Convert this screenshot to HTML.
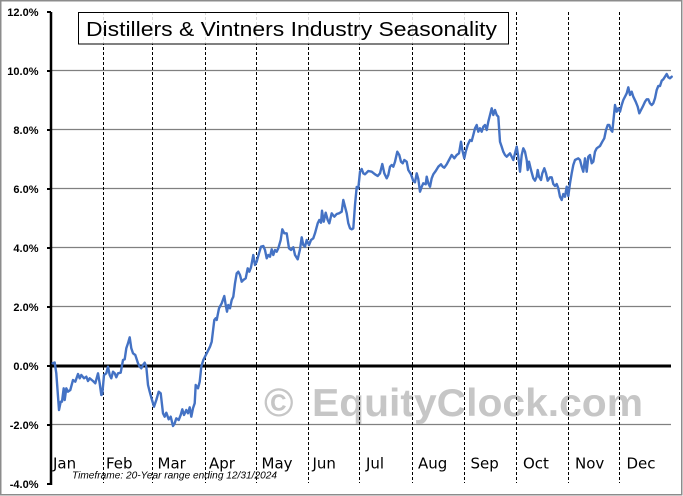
<!DOCTYPE html>
<html>
<head>
<meta charset="utf-8">
<style>
  html, body { margin:0; padding:0; background:#ffffff; }
  svg { display:block; }
</style>
</head>
<body>
<svg width="683" height="496" viewBox="0 0 683 496" xmlns="http://www.w3.org/2000/svg">
  <rect x="0" y="0" width="683" height="496" fill="#ffffff"/>
  <!-- outer border -->
  <rect x="0.75" y="0.75" width="681" height="494" fill="none" stroke="#8c8c8c" stroke-width="1.5"/>

  <!-- horizontal gridlines -->
  <g stroke="#808080" stroke-width="1.2">
    <line x1="51" y1="70.5" x2="671" y2="70.5"/>
    <line x1="51" y1="129.5" x2="671" y2="129.5"/>
    <line x1="51" y1="188.5" x2="671" y2="188.5"/>
    <line x1="51" y1="247.5" x2="671" y2="247.5"/>
    <line x1="51" y1="306.5" x2="671" y2="306.5"/>
    <line x1="51" y1="424.5" x2="671" y2="424.5"/>
  </g>

  <!-- watermark -->
  <g fill="#c6c6c6" font-family="'Liberation Sans', 'DejaVu Sans', sans-serif" font-weight="bold">
    <text x="264" y="416" font-size="40">©</text>
    <text x="312" y="416" font-size="39" textLength="331" lengthAdjust="spacingAndGlyphs">EquityClock.com</text>
  </g>

  <!-- vertical dashed month lines -->
  <g stroke="#000000" stroke-width="1" stroke-dasharray="3,2">
    <line x1="103.5" y1="12" x2="103.5" y2="483"/>
    <line x1="152.5" y1="12" x2="152.5" y2="483"/>
    <line x1="205.5" y1="12" x2="205.5" y2="483"/>
    <line x1="256.5" y1="12" x2="256.5" y2="483"/>
    <line x1="308.5" y1="12" x2="308.5" y2="483"/>
    <line x1="359.5" y1="12" x2="359.5" y2="483"/>
    <line x1="412.5" y1="12" x2="412.5" y2="483"/>
    <line x1="464.5" y1="12" x2="464.5" y2="483"/>
    <line x1="516.5" y1="12" x2="516.5" y2="483"/>
    <line x1="568.5" y1="12" x2="568.5" y2="483"/>
    <line x1="619.5" y1="12" x2="619.5" y2="483"/>
  </g>

  <!-- zero line -->
  <line x1="51" y1="366" x2="671" y2="366" stroke="#000" stroke-width="3"/>

  <!-- left axis -->
  <line x1="51" y1="12" x2="51" y2="485" stroke="#000" stroke-width="2.5"/>
  <g stroke="#000" stroke-width="2">
    <line x1="47" y1="12" x2="51" y2="12"/>
    <line x1="47" y1="71" x2="51" y2="71"/>
    <line x1="47" y1="130" x2="51" y2="130"/>
    <line x1="47" y1="189" x2="51" y2="189"/>
    <line x1="47" y1="248" x2="51" y2="248"/>
    <line x1="47" y1="307" x2="51" y2="307"/>
    <line x1="47" y1="366" x2="51" y2="366"/>
    <line x1="47" y1="425" x2="51" y2="425"/>
    <line x1="47" y1="484" x2="51" y2="484"/>
  </g>

  <!-- y tick labels -->
  <g font-family="'Liberation Sans', sans-serif" font-weight="bold" font-size="11" fill="#000" text-anchor="end">
    <text x="38.5" y="16">12.0%</text>
    <text x="38.5" y="75">10.0%</text>
    <text x="38.5" y="134">8.0%</text>
    <text x="38.5" y="193">6.0%</text>
    <text x="38.5" y="252">4.0%</text>
    <text x="38.5" y="311">2.0%</text>
    <text x="38.5" y="370">0.0%</text>
    <text x="38.5" y="429">-2.0%</text>
    <text x="38.5" y="488">-4.0%</text>
  </g>

  <!-- title box -->
  <rect x="78.5" y="12.5" width="430" height="31.5" fill="#ffffff" fill-opacity="0.85" stroke="#000" stroke-width="1"/>
  <text x="86" y="36" font-family="'Liberation Sans', sans-serif" font-size="20.5" fill="#000" textLength="411" lengthAdjust="spacingAndGlyphs">Distillers &amp; Vintners Industry Seasonality</text>

  <!-- data series -->
  <polyline fill="none" stroke="#4472C4" stroke-width="2.4" stroke-linejoin="round" stroke-linecap="round" points="
52.7,363.3 54.7,362.5 56.3,373.3 59,410 60.7,401.7 62,401.7 63.7,388.3 64.7,400 66.3,388.3 68,391.7 70.3,390 73,380 75.3,381.7 78,374 79.7,378.3 81.3,375 84,378.3 86.3,376.7 88,381 89.7,378.3 93,381 95.3,383.3 98,373.3 99.7,383.3 101.3,395 102.3,394 104,375 106.3,373.3 108,366.7 109.7,375 111.3,378.3 113,371.7 114.7,373.3 116.3,377.3 118,373.3 120.7,372.7 123,360 124.7,359.3 126.3,348.3 128,343.3 129.7,337.3 131.3,348.3 133,353.3 135.3,355 138,363.3 139.7,366.7 141.3,368.3 143,365 144.7,362.7 146.3,366.7 148,385 149.7,391.7 152,400 154,406.7 156.3,400 158.7,391.7 160.7,393.3 163,413.3 164.7,416.7 166.3,412.7 168.7,419.3 170.7,416.7 173,426 174.7,423.3 176.3,418.3 178.7,420 180.7,415 182.3,409.3 184,415 186.3,410 188,413.3 189.7,407.3 191.3,416.7 193,408.3 194.7,403.3 195.7,385 198,388.3 199.7,381.7 201.3,366.7 203.3,360 206.7,353.3 210,346.7 211.7,341.7 214.3,320 215.7,318.3 216.7,320 219,308.3 221.7,303.3 224.3,296 225.7,305 227,311.7 228.3,305 230,308.3 231.7,300 233.3,296.7 235,283.3 236.7,273.3 238.3,271.7 240,275 241.7,281.7 243.3,280 245.7,278.3 247.7,268.3 249.3,271.7 251,267.3 253.3,255 255,265 256.7,261.7 259,253.3 261,246.7 263.3,246 265,250 266.7,258.3 268.3,255 270,256.7 271.7,249.3 273.3,255 275,250 276.7,251.7 278.3,248.3 280.7,240 282.3,229.3 284.3,233.3 286.7,233.3 289,248.3 291,250 293.3,247.3 295,255 297.7,259.3 300,249.3 301.7,237.3 303.3,245 305,246.7 306.7,240 309,245 311,240 313.3,238.3 315,233.3 317.7,223.3 319.3,220 321,222.7 322,210.7 323.7,221.7 325.7,212.7 327.7,220 329.3,223.3 331.7,213.3 334.3,216.7 336.7,214 339,213.3 341.7,211.7 343.3,200 345,206.7 346.7,213.3 348.3,223.3 350,228.3 351.7,229.3 353.3,228.3 355,205 356.7,187 358.3,188.3 360,171.7 361.7,169 363.3,173.3 365,174.3 368.3,171 371.7,171.7 375,174.3 377.7,176 380,173.3 382.3,164 384.3,173.3 386.7,178.3 388.3,175 390,166.7 391.7,165 393.3,166.7 395,161.7 397.3,151.7 399.3,155 401,161.7 402.7,163.3 404.3,160 406.7,161.7 408.3,170 411,174.3 413.3,181 415,182.3 416.7,173.3 418.3,179 420,191.7 421.7,186.7 423.3,183.3 425.7,184.3 426.7,176.7 428.3,183.3 430,186.7 431.7,178.3 433.3,174.3 435.7,171 438.3,166.7 441,164.3 442.7,166.7 444.3,167.7 446.7,164.3 449,160 451.7,155 454.3,158.3 456.7,155 459,153.3 461,141.7 462.3,150 464.3,158.3 465.7,151.7 467.7,145 470,140 471.7,141 473.3,135 475,128.3 476.7,125 478.3,131.7 480,128.3 481.7,131.7 483.3,126.7 485,125 486.7,130 488.3,121.7 490,115 491.7,108.3 493.3,115 495,110 496.7,115 498.3,116.7 500,141.7 501.7,146.7 503.3,151.7 505,155 506.7,156.7 508.3,155 510,153.3 511.7,156.7 513.3,160 515,153.3 516.7,146.7 518.3,156.7 520,171.7 521.7,155 523.3,148.3 525,151.7 526.7,160 527.7,170 529,161.7 531,170 533.3,178.3 535,180.7 536.7,176.7 537.7,170 539,176.7 541,180 542.3,173.3 544.3,168.3 546,173.3 547.7,180.7 550,177.3 551.7,177.3 553.3,184 555,186 556.7,184 558.3,188.3 560,196.7 561.7,200 563.3,194 565,196.7 566.7,186.7 568.3,196 570,183.3 571.7,173.3 573.3,165 575,160 578.3,158.3 580,160 581.7,166.7 583.3,171.7 585,158.3 586.7,171.7 588.3,156.7 590,155 591.7,163.3 593.3,161.7 595,151.7 596.7,148.3 600,146 602.3,141.7 604.3,138.3 606,130 607.7,125 609.3,125 611,130 612.3,131.7 613.3,121.7 615,105 616.7,111.7 618.3,108.3 620,111.7 621.7,105 623.3,100 625,96.7 626.7,93.3 628.3,87.3 630,95 631.7,91.7 633.3,96.7 635.7,101.7 637.7,106.7 639.3,113.3 641,110 642.7,106.7 645,101.7 646.7,99.3 648.3,99.3 650,103.3 651.7,105 653.3,103.3 655,98.3 656.7,90 658.3,86 660,86 661.7,80.7 663.3,79.3 665,76.7 666.7,74 668.3,77.3 670,78.3 671.7,76.7"/>

  <!-- month labels -->
  <g font-family="'DejaVu Sans', 'Liberation Sans', sans-serif" font-size="15" fill="#000">
    <text x="53" y="468.5">Jan</text>
    <text x="106" y="468.5">Feb</text>
    <text x="157.5" y="468.5">Mar</text>
    <text x="209" y="468.5">Apr</text>
    <text x="261.5" y="468.5">May</text>
    <text x="312.5" y="468.5">Jun</text>
    <text x="366" y="468.5">Jul</text>
    <text x="418" y="468.5">Aug</text>
    <text x="470.5" y="468.5">Sep</text>
    <text x="523" y="468.5">Oct</text>
    <text x="575" y="468.5">Nov</text>
    <text x="626.5" y="468.5">Dec</text>
  </g>

  <!-- timeframe note -->
  <text x="72" y="478.5" font-family="'Liberation Sans', sans-serif" font-style="italic" font-size="10" fill="#000" textLength="205" lengthAdjust="spacingAndGlyphs">Timeframe: 20-Year range ending 12/31/2024</text>
</svg>
</body>
</html>
